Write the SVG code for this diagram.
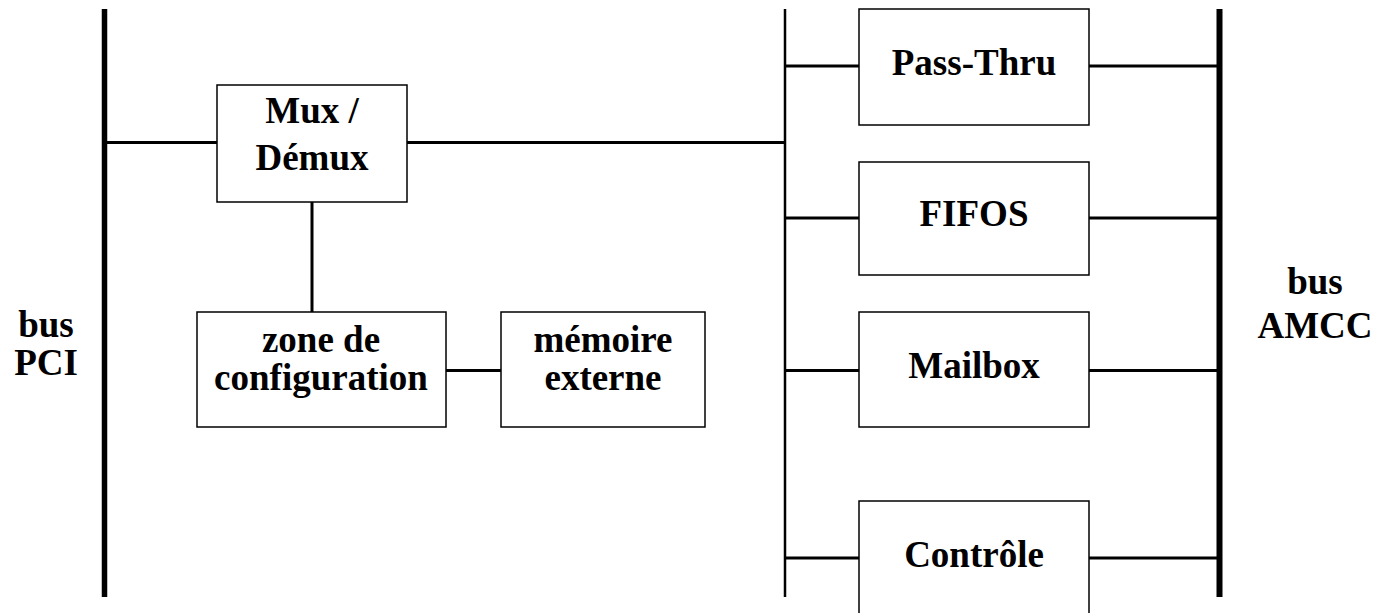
<svg xmlns="http://www.w3.org/2000/svg" width="1390" height="613" viewBox="0 0 1390 613">
<style>
.box{fill:#fff;stroke:#000;stroke-width:1.5}
.ln{stroke:#000;stroke-width:3;fill:none}
.t{font-family:"Liberation Serif","Times New Roman",serif;font-weight:bold;font-size:37px;text-anchor:middle;fill:#000}
</style>
<rect width="1390" height="613" fill="#fff"/>
<g id="connectors">
<line class="ln" x1="104.5" y1="9" x2="104.5" y2="597" style="stroke-width:5.5"/>
<line class="ln" x1="785" y1="9" x2="785" y2="597" style="stroke-width:2.5"/>
<line class="ln" x1="1219.5" y1="9" x2="1219.5" y2="597" style="stroke-width:6"/>
<line class="ln" x1="107" y1="142.5" x2="217" y2="142.5"/>
<line class="ln" x1="407" y1="142.5" x2="785" y2="142.5"/>
<line class="ln" x1="312" y1="202" x2="312" y2="312"/>
<line class="ln" x1="446" y1="370.5" x2="501" y2="370.5"/>
<line class="ln" x1="785" y1="66" x2="859" y2="66"/>
<line class="ln" x1="1089" y1="66" x2="1217" y2="66"/>
<line class="ln" x1="785" y1="218" x2="859" y2="218"/>
<line class="ln" x1="1089" y1="218" x2="1217" y2="218"/>
<line class="ln" x1="785" y1="370.5" x2="859" y2="370.5"/>
<line class="ln" x1="1089" y1="370.5" x2="1217" y2="370.5"/>
<line class="ln" x1="785" y1="558" x2="859" y2="558"/>
<line class="ln" x1="1089" y1="558" x2="1217" y2="558"/>
</g>
<g id="mux"><rect class="box" x="217" y="85" width="190" height="117"/><text class="t" x="312" y="123">Mux /</text><text class="t" x="312" y="170">Démux</text></g>
<g id="zone"><rect class="box" x="197" y="312" width="249" height="115"/><text class="t" x="321" y="352">zone de</text><text class="t" x="321" y="390">configuration</text></g>
<g id="memoire"><rect class="box" x="501" y="312" width="204" height="115"/><text class="t" x="603" y="352">mémoire</text><text class="t" x="603" y="390">externe</text></g>
<g id="passthru"><rect class="box" x="859" y="9" width="230" height="116"/><text class="t" x="974" y="75">Pass-Thru</text></g>
<g id="fifos"><rect class="box" x="859" y="162" width="230" height="113"/><text class="t" x="974" y="226">FIFOS</text></g>
<g id="mailbox"><rect class="box" x="859" y="312" width="230" height="115"/><text class="t" x="974" y="378">Mailbox</text></g>
<g id="controle"><rect class="box" x="859" y="501" width="230" height="130"/><text class="t" x="974" y="567">Contrôle</text></g>
<g id="buspci"><text class="t" x="46" y="337">bus</text><text class="t" x="46" y="375">PCI</text></g>
<g id="busamcc"><text class="t" x="1315" y="294">bus</text><text class="t" x="1315" y="338">AMCC</text></g>
</svg>
